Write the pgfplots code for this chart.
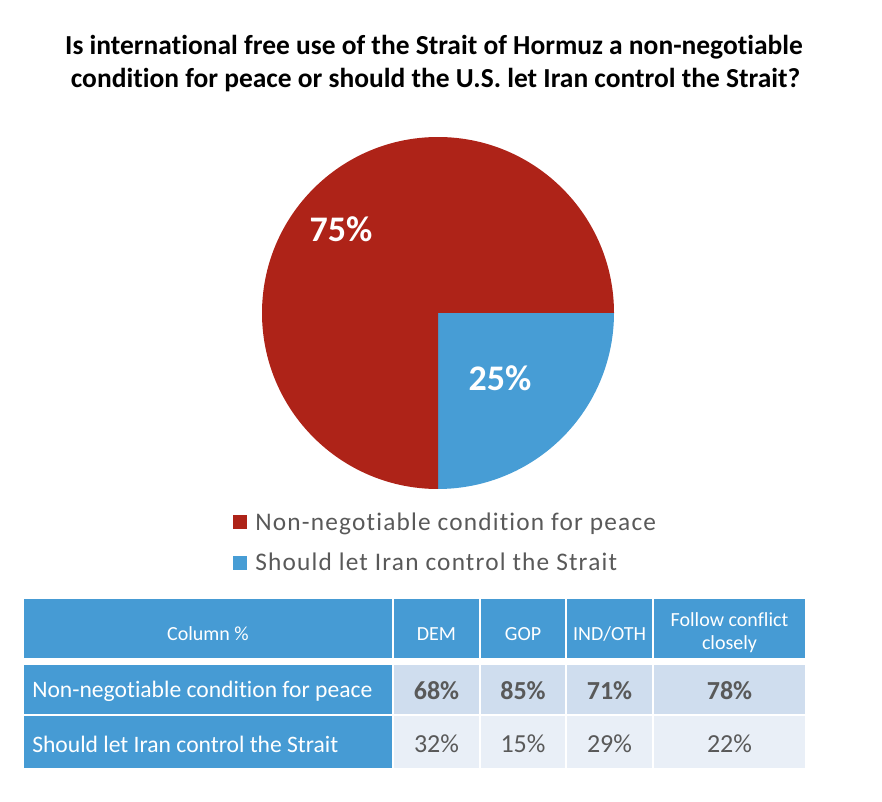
\documentclass[border=0pt]{standalone}
\usepackage{fontspec}
\setmainfont{Carlito}[Ligatures=NoCommon]
\newfontfamily\legfont{Carlito}[Ligatures=NoCommon, LetterSpace=4.7]
\usepackage{pgfplots}
\usepackage{pgfplotstable}
\pgfplotsset{compat=1.18}

\definecolor{pred}{RGB}{174,35,24}
\definecolor{pblue}{RGB}{71,157,213}
\definecolor{hblue}{RGB}{70,155,212}
\definecolor{rowa}{RGB}{207,221,238}
\definecolor{rowb}{RGB}{233,239,247}
\definecolor{tgrey}{RGB}{89,89,89}

\pgfplotstableread{
label value
Nonnegotiable 75
LetIran 25
}\piedata

\pgfplotstableread[col sep=comma]{
group,nonneg,letiran
DEM,68,32
GOP,85,15
IND/OTH,71,29
Follow,78,22
}\tabdata

\pgfplotstablegetelem{0}{value}\of\piedata \xdef\va{\pgfplotsretval}
\pgfplotstablegetelem{1}{value}\of\piedata \xdef\vb{\pgfplotsretval}
\pgfmathsetmacro{\angb}{-3.6*\vb}
\pgfplotstablegetelem{0}{nonneg}\of\tabdata \xdef\nA{\pgfplotsretval}
\pgfplotstablegetelem{1}{nonneg}\of\tabdata \xdef\nB{\pgfplotsretval}
\pgfplotstablegetelem{2}{nonneg}\of\tabdata \xdef\nC{\pgfplotsretval}
\pgfplotstablegetelem{3}{nonneg}\of\tabdata \xdef\nD{\pgfplotsretval}
\pgfplotstablegetelem{0}{letiran}\of\tabdata \xdef\lA{\pgfplotsretval}
\pgfplotstablegetelem{1}{letiran}\of\tabdata \xdef\lB{\pgfplotsretval}
\pgfplotstablegetelem{2}{letiran}\of\tabdata \xdef\lC{\pgfplotsretval}
\pgfplotstablegetelem{3}{letiran}\of\tabdata \xdef\lD{\pgfplotsretval}

\begin{document}
\begin{tikzpicture}
\begin{axis}[x=0.75pt, y=0.75pt, xmin=0, xmax=882, ymin=0, ymax=802,
  y dir=reverse, hide axis, clip=false, scale only axis]
\path (axis cs:0,0) rectangle (axis cs:882,802);

% title
\node[anchor=base, font=\bfseries\fontsize{20.6}{24}\selectfont] at (axis cs:434,55)
  {Is international free use of the Strait of Hormuz a non-negotiable};
\node[anchor=base, font=\bfseries\fontsize{20.6}{24}\selectfont] at (axis cs:435.5,88)
  {condition for peace or should the U.S. let Iran control the Strait?};

% pie
\fill[pblue] (axis cs:438,313) -- ++(0:132pt) arc[start angle=0, end angle=\angb, radius=132pt] -- cycle;
\fill[pred] (axis cs:438,313) -- ++(\angb:132pt) arc[start angle=\angb, end angle=-360, radius=132pt] -- cycle;
\node[anchor=base, text=white, font=\bfseries\fontsize{27}{30}\selectfont] at (axis cs:341,241.5) {\va\%};
\node[anchor=base, text=white, font=\bfseries\fontsize{27}{30}\selectfont] at (axis cs:500,390) {\vb\%};

% legend
\fill[pred] (axis cs:233,515) rectangle (axis cs:247,529);
\fill[pblue] (axis cs:233,555.5) rectangle (axis cs:247,569.5);
\node[anchor=base west, inner sep=0, text=tgrey, font=\legfont\fontsize{19}{22}\selectfont] at (axis cs:255,530) {Non-negotiable condition for peace};
\node[anchor=base west, inner sep=0, text=tgrey, font=\legfont\fontsize{19}{22}\selectfont] at (axis cs:255,570) {Should let Iran control the Strait};

% table cells
\fill[hblue] (axis cs:24,599) rectangle (axis cs:392,658);
\fill[hblue] (axis cs:394,599) rectangle (axis cs:479,658);
\fill[hblue] (axis cs:481,599) rectangle (axis cs:565,658);
\fill[hblue] (axis cs:567,599) rectangle (axis cs:652,658);
\fill[hblue] (axis cs:654,599) rectangle (axis cs:805,658);
\fill[hblue] (axis cs:24,665) rectangle (axis cs:392,714);
\fill[hblue] (axis cs:24,716) rectangle (axis cs:392,768);
\fill[rowa] (axis cs:394,665) rectangle (axis cs:479,714);
\fill[rowa] (axis cs:481,665) rectangle (axis cs:565,714);
\fill[rowa] (axis cs:567,665) rectangle (axis cs:652,714);
\fill[rowa] (axis cs:654,665) rectangle (axis cs:805,714);
\fill[rowb] (axis cs:394,716) rectangle (axis cs:479,768);
\fill[rowb] (axis cs:481,716) rectangle (axis cs:565,768);
\fill[rowb] (axis cs:567,716) rectangle (axis cs:652,768);
\fill[rowb] (axis cs:654,716) rectangle (axis cs:805,768);

% header text
\node[anchor=base, text=white, font=\fontsize{15}{18}\selectfont] at (axis cs:208,640) {Column \%};
\node[anchor=base, text=white, font=\fontsize{15}{18}\selectfont] at (axis cs:436.5,640) {DEM};
\node[anchor=base, text=white, font=\fontsize{15}{18}\selectfont] at (axis cs:523,640) {GOP};
\node[anchor=base, text=white, font=\fontsize{15}{18}\selectfont] at (axis cs:609.5,640) {IND/OTH};
\node[anchor=base, text=white, font=\fontsize{15}{18}\selectfont] at (axis cs:729.5,626) {Follow conflict};
\node[anchor=base, text=white, font=\fontsize{15}{18}\selectfont] at (axis cs:729.5,649.5) {closely};

% row labels
\node[anchor=base west, inner sep=0, text=white, font=\fontsize{17.7}{21}\selectfont] at (axis cs:32,697) {Non-negotiable condition for peace};
\node[anchor=base west, inner sep=0, text=white, font=\fontsize{17.7}{21}\selectfont] at (axis cs:32,752) {Should let Iran control the Strait};

% data
\node[anchor=base, text=tgrey, font=\bfseries\fontsize{19.5}{22}\selectfont] at (axis cs:436.5,699.5) {\nA\%};
\node[anchor=base, text=tgrey, font=\bfseries\fontsize{19.5}{22}\selectfont] at (axis cs:523,699.5) {\nB\%};
\node[anchor=base, text=tgrey, font=\bfseries\fontsize{19.5}{22}\selectfont] at (axis cs:609.5,699.5) {\nC\%};
\node[anchor=base, text=tgrey, font=\bfseries\fontsize{19.5}{22}\selectfont] at (axis cs:729.5,699.5) {\nD\%};
\node[anchor=base, text=tgrey, font=\fontsize{19.5}{22}\selectfont] at (axis cs:436.5,752) {\lA\%};
\node[anchor=base, text=tgrey, font=\fontsize{19.5}{22}\selectfont] at (axis cs:523,752) {\lB\%};
\node[anchor=base, text=tgrey, font=\fontsize{19.5}{22}\selectfont] at (axis cs:609.5,752) {\lC\%};
\node[anchor=base, text=tgrey, font=\fontsize{19.5}{22}\selectfont] at (axis cs:729.5,752) {\lD\%};
\end{axis}
\end{tikzpicture}
\end{document}
